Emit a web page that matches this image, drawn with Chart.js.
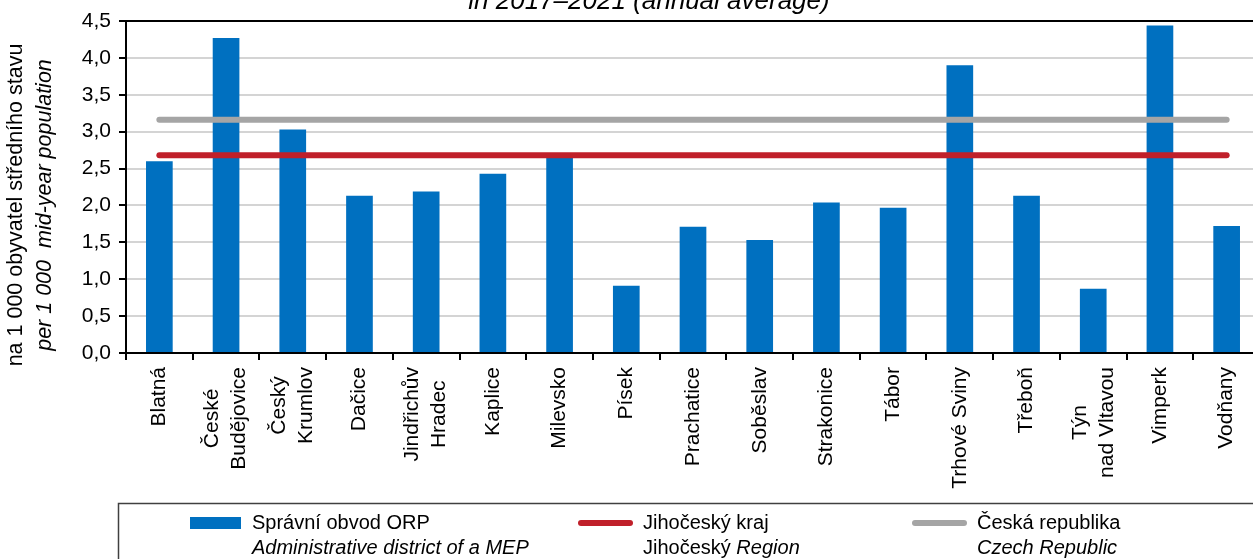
<!DOCTYPE html>
<html>
<head>
<meta charset="utf-8">
<script src="https://cdn.jsdelivr.net/npm/chart.js@4"></script>
<style>
  body { margin: 0; overflow: hidden; background: #fff; }
  #wrap { width: 1262px; height: 559px; }
</style>
</head>
<body>
<div id="wrap"><canvas id="graf"></canvas></div>
<script>
const FONT = 'Arial, "Liberation Sans", sans-serif';

// data
const categories = [['Blatná'], ['České', 'Budějovice'], ['Český', 'Krumlov'], ['Dačice'],
  ['Jindřichův', 'Hradec'], ['Kaplice'], ['Milevsko'], ['Písek'], ['Prachatice'], ['Soběslav'],
  ['Strakonice'], ['Tábor'], ['Trhové Sviny'], ['Třeboň'], ['Týn', 'nad Vltavou'], ['Vimperk'], ['Vodňany']];
const orpValues = [2.60, 4.27, 3.03, 2.13, 2.19, 2.43, 2.65, 0.91, 1.71, 1.53, 2.04, 1.97, 3.90, 2.13, 0.87, 4.44, 1.72];
const krajValues = [2.68, 2.68, 2.68, 2.68, 2.68, 2.68, 2.68, 2.68, 2.68, 2.68, 2.68, 2.68, 2.68, 2.68, 2.68, 2.68, 2.68];
const crValues = [3.16, 3.16, 3.16, 3.16, 3.16, 3.16, 3.16, 3.16, 3.16, 3.16, 3.16, 3.16, 3.16, 3.16, 3.16, 3.16, 3.16];
const yTickLabels = ['0,0', '0,5', '1,0', '1,5', '2,0', '2,5', '3,0', '3,5', '4,0', '4,5'];

const titleText = 'in 2017–2021 (annual average)';
const yTitleCz = 'na 1 000 obyvatel středního stavu';
const yTitleEn = 'per 1 000  mid-year population';
const legendCz = ['Správní obvod ORP', 'Jihočeský kraj', 'Česká republika'];
const legendEn = [
  [['Administrative district of a MEP', true]],
  [['Jihočeský ', false], ['Region', true]],
  [['Czech Republic', true]]
];

const barColor = '#0070c0';
const krajColor = '#c0202a';
const crColor = '#a5a5a5';

// popisky, titulky a legenda se kresli rucne
const kresleni = {
  id: 'kresleni',
  afterDraw(chart) {
    const ctx = chart.ctx;
    const x = chart.scales.x;
    const area = chart.chartArea;
    ctx.save();
    ctx.fillStyle = '#000';

    // nadpis (oriznuty nahore)
    ctx.font = 'italic 26px ' + FONT;
    ctx.textAlign = 'center';
    ctx.textBaseline = 'alphabetic';
    ctx.fillText(titleText, 649, 9);

    // popisky kategorii, otocene o 90 st.
    ctx.font = '21px ' + FONT;
    const lh = 27;
    chart.data.labels.forEach((lines, i) => {
      const px = x.getPixelForValue(i);
      const maxW = Math.max(...lines.map(l => ctx.measureText(l).width));
      ctx.save();
      ctx.translate(px, area.bottom + 14);
      ctx.rotate(-Math.PI / 2);
      ctx.textAlign = 'center';
      ctx.textBaseline = 'middle';
      lines.forEach((l, k) => {
        ctx.fillText(l, -maxW / 2, (k - (lines.length - 1) / 2) * lh);
      });
      ctx.restore();
    });

    // titulek osy y
    ctx.save();
    ctx.translate(0, 205);
    ctx.rotate(-Math.PI / 2);
    ctx.textAlign = 'center';
    ctx.textBaseline = 'middle';
    ctx.font = '21.5px ' + FONT;
    ctx.fillText(yTitleCz, 0, 16);
    ctx.font = 'italic 21.5px ' + FONT;
    ctx.fillText(yTitleEn, 0, 45);
    ctx.restore();

    // legenda
    ctx.strokeStyle = '#404040';
    ctx.lineWidth = 1.5;
    ctx.strokeRect(118.5, 503.5, 1400, 200);
    const symX = [190, 578, 912];
    const txtX = [252, 643, 977];
    const y1 = 523, y2 = 548;
    ctx.fillStyle = barColor;
    ctx.fillRect(symX[0], y1 - 6, 51, 12);
    [[krajColor, 1], [crColor, 2]].forEach(([c, k]) => {
      ctx.strokeStyle = c;
      ctx.lineWidth = 6;
      ctx.lineCap = 'round';
      ctx.beginPath();
      ctx.moveTo(symX[k] + 3, y1);
      ctx.lineTo(symX[k] + 52, y1);
      ctx.stroke();
    });
    ctx.fillStyle = '#000';
    ctx.textAlign = 'left';
    ctx.textBaseline = 'middle';
    legendCz.forEach((t, k) => {
      ctx.font = '20px ' + FONT;
      ctx.fillText(t, txtX[k], y1);
      let cx = txtX[k];
      legendEn[k].forEach(([s, it]) => {
        ctx.font = (it ? 'italic ' : '') + '20px ' + FONT;
        ctx.fillText(s, cx, y2);
        cx += ctx.measureText(s).width;
      });
    });
    ctx.restore();
  }
};

const ctx = document.getElementById('graf').getContext('2d');
const graf = new Chart(ctx, {
  type: 'bar',
  data: {
    labels: categories,
    datasets: [{
      label: legendCz[0],
      data: orpValues,
      backgroundColor: barColor,
      barPercentage: 0.8,
      categoryPercentage: 0.5,
      order: 2
    }, {
      type: 'line',
      label: legendCz[1],
      data: krajValues,
      borderColor: krajColor,
      borderWidth: 6,
      borderCapStyle: 'round',
      pointRadius: 0,
      order: 1
    }, {
      type: 'line',
      label: legendCz[2],
      data: crValues,
      borderColor: crColor,
      borderWidth: 6,
      borderCapStyle: 'round',
      pointRadius: 0,
      order: 1
    }]
  },
  options: {
    responsive: true,
    maintainAspectRatio: false,
    animation: false,
    layout: { padding: { top: 21, left: 0, right: 2, bottom: 0 } },
    plugins: {
      legend: { display: false },
      tooltip: { enabled: false }
    },
    scales: {
      x: {
        ticks: { display: false },
        grid: { drawOnChartArea: false, drawTicks: true, tickLength: 7, color: '#000', lineWidth: 2 },
        border: { color: '#000', width: 2 },
        afterFit: s => { s.height = 206; }
      },
      y: {
        min: 0,
        max: 4.5,
        ticks: {
          stepSize: 0.5,
          padding: 8,
          color: '#000',
          font: { family: FONT, size: 21 },
          callback: (v, i) => yTickLabels[i]
        },
        grid: {
          color: c => (c.tick && c.tick.value === 4.5 ? '#000' : '#d4d4d4'),
          lineWidth: 2,
          tickColor: '#000',
          tickLength: 7
        },
        border: { color: '#000', width: 2 },
        afterFit: s => { s.width = 126; }
      }
    }
  },
  plugins: [kresleni]
});
</script>
</body>
</html>
